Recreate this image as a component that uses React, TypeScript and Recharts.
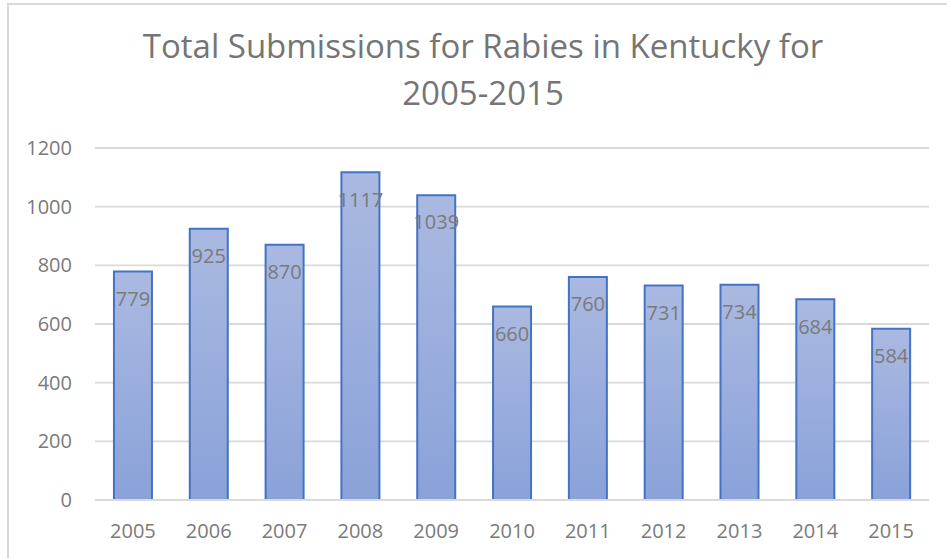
import React from "react";
import {
  BarChart,
  Bar,
  XAxis,
  YAxis,
  CartesianGrid,
  LabelList,
} from "recharts";

const YEARS = ["2005", "2006", "2007", "2008", "2009", "2010", "2011", "2012", "2013", "2014", "2015"];
const SUBMISSIONS = [779, 925, 870, 1117, 1039, 660, 760, 731, 734, 684, 584];
const Y_TICKS = [0, 200, 400, 600, 800, 1000, 1200];

const FONT = "'Open Sans', sans-serif";
const GRAY = "#7a7a7a";

const chartData = YEARS.map((year, i) => ({ year, value: SUBMISSIONS[i] }));

export default function App() {
  return (
    <div style={{ position: "absolute", left: 0, top: 0, width: 947, height: 558, overflow: "hidden", background: "#fff" }}>
      <div
        style={{
          position: "absolute",
          left: 0,
          top: 22,
          width: 966,
          textAlign: "center",
          fontFamily: FONT,
          fontSize: 33,
          lineHeight: "47px",
          color: "#757575",
        }}
      >
        Total Submissions for Rabies in Kentucky for
        <br />
        2005-2015
      </div>
      <div style={{ position: "absolute", left: 0, top: 0 }}>
        <BarChart
          width={947}
          height={558}
          data={chartData}
          margin={{ top: 148, right: 18, left: 10, bottom: 28 }}
          barCategoryGap="25%"
        >
          <defs>
            <linearGradient id="barGrad" x1="0" y1="0" x2="0" y2="1">
              <stop offset="0%" stopColor="#aab9e1" />
              <stop offset="100%" stopColor="#8aa2d9" />
            </linearGradient>
          </defs>
          <CartesianGrid vertical={false} stroke="#d9d9d9" strokeWidth={1.8} />
          <XAxis
            dataKey="year"
            axisLine={{ stroke: "#d9d9d9", strokeWidth: 1.8 }}
            tickLine={false}
            tickMargin={18}
            height={30}
            tick={{ fontSize: 20, fill: GRAY, fontFamily: FONT }}
          />
          <YAxis
            type="number"
            domain={[0, 1200]}
            ticks={Y_TICKS}
            axisLine={false}
            tickLine={false}
            tickMargin={17}
            width={85}
            tick={{ fontSize: 20, fill: GRAY, fontFamily: FONT }}
          />
          <Bar
            dataKey="value"
            fill="url(#barGrad)"
            stroke="#4472c4"
            strokeWidth={2}
            isAnimationActive={false}
          >
            <LabelList
              dataKey="value"
              position="insideTop"
              offset={20}
              fill={GRAY}
              fontSize={20}
              fontFamily={FONT}
            />
          </Bar>
        </BarChart>
      </div>
      <div
        style={{
          position: "absolute",
          left: 7,
          top: 3,
          width: 1000,
          height: 600,
          borderLeft: "2px solid #d9d9d9",
          borderTop: "2px solid #d9d9d9",
          pointerEvents: "none",
          zIndex: 2,
        }}
      />
    </div>
  );
}
